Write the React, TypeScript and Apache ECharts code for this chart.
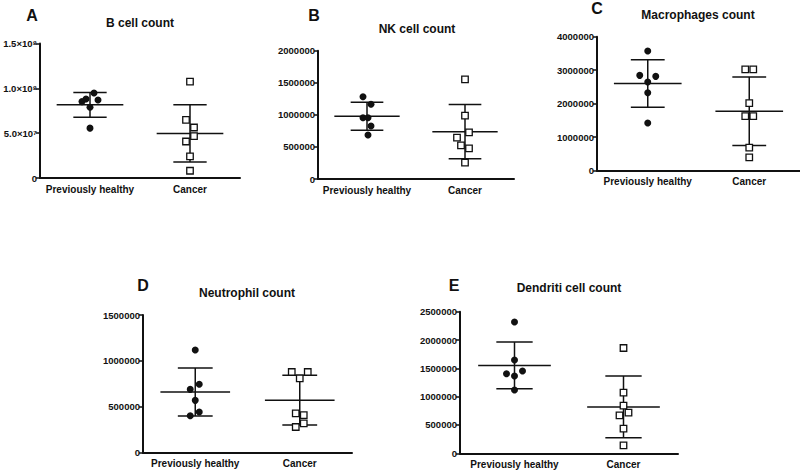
import React, { useEffect, useRef } from "react";
import * as echarts from "echarts";

// ---------- DATA ----------
const categories = ["Previously healthy", "Cancer"];

const panelLetters = ["A", "B", "C", "D", "E"];
const panelTitles = [
  "B cell count",
  "NK cell count",
  "Macrophages count",
  "Neutrophil count",
  "Dendriti cell count",
];

const bCellHealthy = [85.2e6, 88.1e6, 94.8e6, 87.0e6, 78.9e6, 55.6e6];
const bCellCancer = [107.4e6, 64.8e6, 56.3e6, 46.7e6, 40.7e6, 24.1e6, 8.1e6];

const nkHealthy = [1283000, 1164000, 956000, 956000, 826000, 686000];
const nkCancer = [1553000, 987000, 727000, 644000, 525000, 478000, 255000];

const macroHealthy = [3572000, 2846000, 2816000, 2647000, 2328000, 1423000];
const macroCancer = [3025000, 3025000, 2020000, 1632000, 1632000, 687000, 398000];

const neutroHealthy = [1119000, 690000, 745000, 570000, 443000, 403000];
const neutroCancer = [879000, 879000, 810000, 429000, 410000, 320000, 280000];

const dendHealthy = [2318000, 1647000, 1406000, 1453000, 1365000, 1118000];
const dendCancer = [1859000, 1071000, 841000, 671000, 718000, 435000, 141000];

const yMax = [1.5e8, 2000000, 4000000, 1500000, 2500000];
const yInterval = [5e7, 500000, 1000000, 500000, 500000];
const bCellTickLabels = ["0", "5.0×10⁷", "1.0×10⁸", "1.5×10⁸"];

// ---------- LAYOUT / STYLE ----------
const grids = [
  { left: 40, top: 43.5, width: 200, height: 134.5 },
  { left: 318, top: 50.7, width: 196, height: 128.3 },
  { left: 597, top: 36.7, width: 204, height: 134 },
  { left: 143, top: 315, width: 209, height: 137.7 },
  { left: 460, top: 311.7, width: 218, height: 141.6 },
];
const letterPos = [
  [32, 15],
  [314, 15],
  [597, 8],
  [143, 285],
  [454, 285],
];
const titlePos = [
  [140, 23],
  [417, 29],
  [698, 15],
  [247, 293],
  [569, 288],
];
// horizontal scatter spread (px) of each point, like the original plot
const spreadHealthy = [
  [-8, -4, 4, 8, 0, 0],
  [-4, 4, -4, 1, 4, 1],
  [0, -8, 8, 0, 0, 0],
  [0, -5, 4, 0, 4, -5],
  [0, 0, -8, 8, 0, 0],
];
const spreadCancer = [
  [0, -4, 4, 4, -4, 0, 0],
  [0, 0, 4, -8, -4, 4, 0],
  [-4, 4, 0, -4, 4, 0, 0],
  [-8, 8, 0, -4, 4, 4, -4],
  [0, 0, 0, -4, 5, 0, 0],
];

const FONT = "'Liberation Sans', Arial, sans-serif";
const INK = "#111";

const healthySets = [bCellHealthy, nkHealthy, macroHealthy, neutroHealthy, dendHealthy];
const cancerSets = [bCellCancer, nkCancer, macroCancer, neutroCancer, dendCancer];

function mean(a: number[]) {
  return a.reduce((s, v) => s + v, 0) / a.length;
}
function sd(a: number[]) {
  const m = mean(a);
  return Math.sqrt(a.reduce((s, v) => s + (v - m) * (v - m), 0) / (a.length - 1));
}

function buildOption() {
  const grid: any[] = [];
  const xAxis: any[] = [];
  const yAxis: any[] = [];
  const series: any[] = [];
  const graphic: any[] = [];

  for (let i = 0; i < 5; i++) {
    grid.push({ ...grids[i], containLabel: false });
    xAxis.push({
      type: "category",
      gridIndex: i,
      data: categories,
      axisLine: { lineStyle: { color: INK, width: 2 } },
      axisTick: { alignWithLabel: true, interval: 0, length: 4, lineStyle: { color: INK, width: 1.5 } },
      axisLabel: {
        interval: 0,
        hideOverlap: false,
        fontFamily: FONT,
        fontWeight: "bold",
        fontSize: 10,
        color: "#111",
        margin: 6,
      },
      splitLine: { show: false },
    });
    yAxis.push({
      type: "value",
      gridIndex: i,
      min: 0,
      max: yMax[i],
      interval: yInterval[i],
      axisLine: { show: true, lineStyle: { color: INK, width: 2 } },
      axisTick: { show: true, length: 4, lineStyle: { color: INK, width: 1.5 } },
      splitLine: { show: false },
      axisLabel: {
        fontFamily: FONT,
        fontWeight: "bold",
        fontSize: 9.5,
        color: "#111",
        margin: 3,
        formatter:
          i === 0
            ? (v: number) => bCellTickLabels[Math.round(v / yInterval[0])] ?? ""
            : (v: number) => String(v),
      },
    });

    const h = healthySets[i];
    const c = cancerSets[i];

    series.push({
      type: "custom",
      xAxisIndex: i,
      yAxisIndex: i,
      z: 2,
      silent: true,
      data: [
        [0, mean(h), sd(h)],
        [1, mean(c), sd(c)],
      ],
      renderItem: (params: any, api: any) => {
        const cat = api.value(0);
        const m = api.value(1);
        const s = api.value(2);
        const center = api.coord([cat, m]);
        const top = api.coord([cat, m + s])[1];
        const bottom = api.coord([cat, Math.max(0, m - s)])[1];
        const band = api.size([1, 0])[0];
        const hw = band / 3;
        const cw = band / 6;
        const st = { stroke: INK, lineWidth: 1.5, fill: null };
        return {
          type: "group",
          children: [
            { type: "line", shape: { x1: center[0] - hw, y1: center[1], x2: center[0] + hw, y2: center[1] }, style: st },
            { type: "line", shape: { x1: center[0], y1: top, x2: center[0], y2: bottom }, style: st },
            { type: "line", shape: { x1: center[0] - cw, y1: top, x2: center[0] + cw, y2: top }, style: st },
            { type: "line", shape: { x1: center[0] - cw, y1: bottom, x2: center[0] + cw, y2: bottom }, style: st },
          ],
        };
      },
    });

    series.push({
      type: "scatter",
      xAxisIndex: i,
      yAxisIndex: i,
      z: 3,
      symbol: "circle",
      symbolSize: 7,
      itemStyle: { color: INK, opacity: 1 },
      data: h.map((v, k) => ({ value: [0, v], symbolOffset: [spreadHealthy[i][k] || 0, 0] })),
    });
    series.push({
      type: "scatter",
      xAxisIndex: i,
      yAxisIndex: i,
      z: 3,
      symbol: "rect",
      symbolSize: 6.5,
      itemStyle: { color: "#fff", borderColor: INK, borderWidth: 1.3, opacity: 1 },
      data: c.map((v, k) => ({ value: [1, v], symbolOffset: [spreadCancer[i][k] || 0, 0] })),
    });

    graphic.push({
      type: "text",
      x: letterPos[i][0],
      y: letterPos[i][1],
      style: {
        text: panelLetters[i],
        fontFamily: FONT,
        fontWeight: "bold",
        fontSize: 16,
        fill: INK,
        textAlign: "center",
        textVerticalAlign: "middle",
      },
    });
    graphic.push({
      type: "text",
      x: titlePos[i][0],
      y: titlePos[i][1],
      style: {
        text: panelTitles[i],
        fontFamily: FONT,
        fontWeight: "bold",
        fontSize: 12,
        fill: INK,
        textAlign: "center",
        textVerticalAlign: "middle",
      },
    });
  }

  return {
    animation: false,
    backgroundColor: "#fff",
    grid,
    xAxis,
    yAxis,
    series,
    graphic,
  };
}

export default function App() {
  const ref = useRef<HTMLDivElement>(null);
  useEffect(() => {
    if (!ref.current) return;
    const chart = echarts.init(ref.current, null, { renderer: "svg" });
    chart.setOption(buildOption() as any);
    return () => chart.dispose();
  }, []);
  return (
    <div
      ref={ref}
      style={{ position: "fixed", left: 0, top: 0, width: 800, height: 472, background: "#fff" }}
    />
  );
}
